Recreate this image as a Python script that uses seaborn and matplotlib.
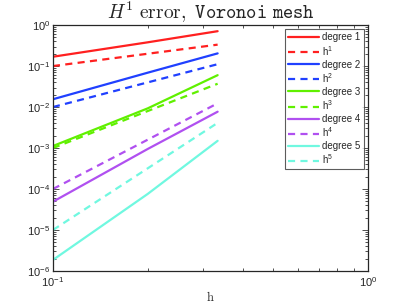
import numpy as np
import pandas as pd
import seaborn as sns
import matplotlib
matplotlib.use("Agg")
import matplotlib.pyplot as plt
from matplotlib.ticker import FuncFormatter, LogLocator, NullFormatter

h = [0.1, 0.2, 1 / 3]
deg1 = [0.169, 0.38, 0.71]
deg2 = [0.0155, 0.069, 0.204]
deg3 = [1.12e-3, 9.3e-3, 0.06]
deg4 = [4.9e-5, 9.5e-4, 7.7e-3]
deg5 = [1.86e-6, 7.6e-5, 1.5e-3]
degrees = [deg1, deg2, deg3, deg4, deg5]
colors = ['#ff2020', '#2040ff', '#60f000', '#b050f0', '#70f8e0']

sns.set_style("ticks")
plt.rcParams['font.family'] = ['Liberation Sans', 'DejaVu Sans']
plt.rcParams['mathtext.fontset'] = 'cm'

fig = plt.figure(figsize=(4.07, 3.06), dpi=100)
ax = fig.add_axes([0.130, 0.1144, 0.774, 0.8036])

hh = np.array(h)
for k, (vals, c) in enumerate(zip(degrees, colors), start=1):
    sns.lineplot(x=h, y=vals, color=c, lw=1.6, ax=ax, label='degree %d' % k)
    sns.lineplot(x=h, y=list(hh ** k), color=c, lw=1.6, ax=ax,
                 label=r'h$^{\mathregular{%d}}$' % k, dashes=False)
    ax.lines[-1].set_dashes((3.2, 2.4))

ax.set_xscale('log')
ax.set_yscale('log')
ax.set_xlim(0.1, 1)
ax.set_ylim(1e-6, 1)

fmt = FuncFormatter(lambda v, p: r'$\mathregular{10^{%d}}$' % round(np.log10(v)))
ax.xaxis.set_major_formatter(fmt)
ax.yaxis.set_major_formatter(fmt)
ax.xaxis.set_minor_formatter(NullFormatter())
ax.yaxis.set_major_locator(LogLocator(base=10, numticks=10))
ax.yaxis.set_minor_locator(LogLocator(base=10, subs=np.arange(2, 10), numticks=20))
ax.tick_params(which='both', direction='in', top=True, right=True, labelsize=8,
               width=0.6, color='#333333', pad=2)
ax.tick_params(axis='x', pad=3)
ax.tick_params(which='major', length=4)
ax.tick_params(which='minor', length=2)
for s in ax.spines.values():
    s.set_linewidth(0.9)
    s.set_visible(True)

ax.set_title(r'$H^1\ \mathrm{error,}\ \mathtt{Voronoi\ mesh}$', fontsize=14, pad=3)
ax.set_xlabel(r'$\mathrm{h}$', fontsize=9, labelpad=1)

leg = ax.legend(loc='upper right', fontsize=7, frameon=True, fancybox=False,
                handlelength=3.2, labelspacing=0.2, borderpad=0.3,
                handletextpad=0.3, borderaxespad=0.45)
leg.get_frame().set_edgecolor('#333333')
leg.get_frame().set_linewidth(0.8)

fig.savefig('out.png', dpi=100)
